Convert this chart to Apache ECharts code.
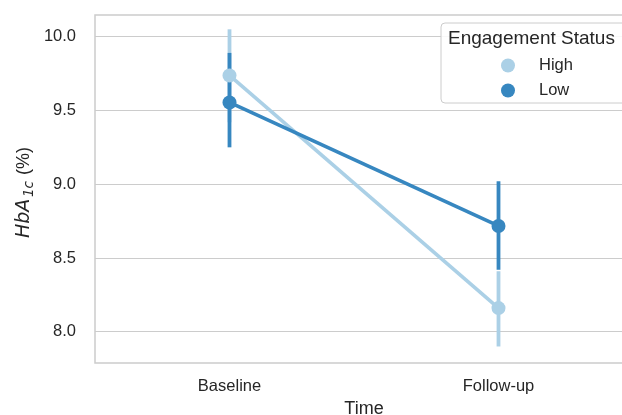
<!DOCTYPE html>
<html>
<head>
<meta charset="utf-8">
<script src="https://cdn.jsdelivr.net/npm/echarts@6/dist/echarts.min.js"></script>
<style>
  html, body { margin: 0; padding: 0; background: #fff; }
  #chart { width: 622px; height: 415px; }
</style>
</head>
<body>
<div id="chart"></div>
<script>
// data
const timepoints = ['Baseline', 'Follow-up'];
const yTicks = [8.0, 8.5, 9.0, 9.5, 10.0];

const highMean = [9.737, 8.16];
const highCiLow = [9.42, 7.90];
const highCiHigh = [10.05, 8.41];

const lowMean = [9.554, 8.717];
const lowCiLow = [9.25, 8.42];
const lowCiHigh = [9.89, 9.02];

const colHigh = '#abd0e6';
const colLow = '#3787c0';
const textCol = '#262626';
const font = 'Liberation Sans, Arial, sans-serif';

const chart = echarts.init(document.getElementById('chart'));

// vertical CI bar at each category
function errBars(name, lows, highs, color) {
  return {
    name: name,
    type: 'custom',
    itemStyle: { color: color },
    data: timepoints.map((t, i) => [i, lows[i], highs[i]]),
    renderItem: (params, api) => {
      const a = api.coord([api.value(0), api.value(1)]);
      const b = api.coord([api.value(0), api.value(2)]);
      return {
        type: 'line',
        shape: { x1: a[0], y1: a[1], x2: b[0], y2: b[1] },
        style: { stroke: color, lineWidth: 3.8 }
      };
    }
  };
}

function meanLine(name, values, color) {
  return {
    name: name,
    type: 'line',
    data: values,
    symbol: 'circle',
    symbolSize: 14,
    itemStyle: { color: color },
    lineStyle: { color: color, width: 3.6 }
  };
}

const option = {
  animation: false,
  textStyle: { fontFamily: font },
  grid: {
    left: 95, top: 15, width: 538, height: 348,
    show: true, borderColor: '#cccccc', borderWidth: 1.5,
    containLabel: false,
    outerBoundsMode: 'none'
  },
  xAxis: {
    type: 'category',
    data: timepoints,
    boundaryGap: true,
    axisLine: { show: false },
    axisTick: { show: false },
    splitLine: { show: false },
    axisLabel: { color: textCol, fontSize: 16.5, margin: 15, fontFamily: font },
    name: 'Time',
    nameLocation: 'middle',
    nameGap: 37,
    nameTextStyle: { color: textCol, fontSize: 18, fontFamily: font }
  },
  yAxis: {
    type: 'value',
    min: 7.788,
    max: 10.147,
    axisLine: { show: false },
    axisTick: { show: false, customValues: yTicks },
    axisLabel: {
      customValues: yTicks,
      color: textCol, fontSize: 16.5, margin: 19, fontFamily: font,
      formatter: v => v.toFixed(1)
    },
    splitLine: { show: true, lineStyle: { color: '#cccccc', width: 1.2 } }
  },
  legend: {
    data: ['High', 'Low'],
    orient: 'vertical',
    left: 501,
    top: 57,
    padding: 0,
    z: 95,
    icon: 'circle',
    itemWidth: 14,
    itemHeight: 14,
    itemGap: 8,
    selectedMode: false,
    textStyle: { color: textCol, fontSize: 16.5, fontFamily: font, padding: [0, 0, 0, 19] }
  },
  graphic: [
    {
      type: 'rect',
      z: 90,
      shape: { x: 441, y: 23, width: 200, height: 80, r: 4 },
      style: { fill: 'rgba(255,255,255,0.85)', stroke: '#cccccc', lineWidth: 1 }
    },
    {
      type: 'text',
      z: 91,
      left: 448,
      top: 29,
      style: { text: 'Engagement Status', fill: textCol, fontSize: 19, fontFamily: font }
    },
    {
      // y axis title: HbA1c (%) with subscript, rotated
      type: 'group',
      x: 24,
      y: 238,
      rotation: Math.PI / 2,
      children: [
        {
          type: 'text', x: 0, y: 0,
          style: { text: 'HbA', fill: textCol, fontSize: 19, fontStyle: 'italic', fontFamily: 'DejaVu Sans', verticalAlign: 'middle' }
        },
        {
          type: 'text', x: 41, y: 5,
          style: { text: '1c', fill: textCol, fontSize: 13.5, fontStyle: 'italic', fontFamily: 'DejaVu Sans', verticalAlign: 'middle' }
        },
        {
          type: 'text', x: 58, y: 0,
          style: { text: ' (%)', fill: textCol, fontSize: 18, fontFamily: font, verticalAlign: 'middle' }
        }
      ]
    }
  ],
  series: [
    errBars('High', highCiLow, highCiHigh, colHigh),
    meanLine('High', highMean, colHigh),
    errBars('Low', lowCiLow, lowCiHigh, colLow),
    meanLine('Low', lowMean, colLow)
  ]
};

chart.setOption(option);
window.addEventListener('resize', () => chart.resize());
</script>
</body>
</html>
